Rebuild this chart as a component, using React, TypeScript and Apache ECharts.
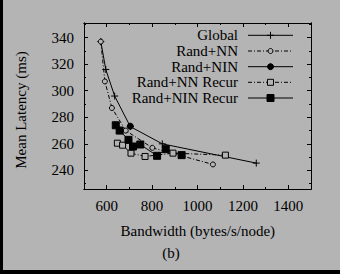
import React, { useEffect, useRef } from "react";
import * as echarts from "echarts";

const seriesNames = ["Global", "Rand+NN", "Rand+NIN", "Rand+NN Recur", "Rand+NIN Recur"];

const globalX = [574, 596, 635, 704, 845, 1259];
const globalY = [337, 316, 296, 273, 260, 245.5];
const randNNX = [574, 592, 623, 684, 801, 1068];
const randNNY = [337, 307, 287, 270, 257, 244.5];
const randNINX = [704];
const randNINY = [273.3];
const randNNRecurX = [647, 670, 707, 769, 892, 1123];
const randNNRecurY = [260.5, 259, 253, 250.5, 253, 251.5];
const randNINRecurX = [640, 657, 696, 716, 748, 822, 860, 930];
const randNINRecurY = [274, 270, 263, 258, 259.5, 251, 256, 251.5];

const xMajorTicks = [600, 800, 1000, 1200, 1400];
const xMinorTicks = [700, 900, 1100, 1300];
const yMajorTicks = [240, 260, 280, 300, 320, 340];
const yMinorTicks = [230, 250, 270, 290, 310, 330, 350];

const X_MIN = 500;
const X_MAX = 1500;
const Y_MIN = 226;
const Y_MAX = 351;

const BG = "#b4b4b4";
const FONT = "'Liberation Serif', 'DejaVu Serif', serif";
const DASHDOT = [4, 2, 1, 2];

const zip = (xs: number[], ys: number[]) => xs.map((x, i) => [x, ys[i]]);

const PLUS = "path://M0 5L10 5M5 0L5 10";

function xAxisDef(position: "top" | "bottom", ticks: number[], len: number, labels: boolean) {
  return {
    type: "value",
    position,
    min: X_MIN,
    max: X_MAX,
    axisLine: { show: true, onZero: false, lineStyle: { color: "#000", width: 1 } },
    axisTick: { show: true, inside: true, length: len, customValues: ticks, lineStyle: { color: "#000", width: 1 } },
    axisLabel: labels
      ? {
          show: true,
          customValues: ticks,
          margin: 9,
          color: "#000",
          fontSize: 15,
          fontFamily: FONT,
          formatter: (v: number) => String(v),
        }
      : { show: false },
    splitLine: { show: false },
  };
}

function yAxisDef(position: "left" | "right", ticks: number[], len: number, labels: boolean) {
  return {
    type: "value",
    position,
    min: Y_MIN,
    max: Y_MAX,
    axisLine: { show: true, onZero: false, lineStyle: { color: "#000", width: 1 } },
    axisTick: { show: true, inside: true, length: len, customValues: ticks, lineStyle: { color: "#000", width: 1 } },
    axisLabel: labels
      ? {
          show: true,
          customValues: ticks,
          margin: 10,
          color: "#000",
          fontSize: 15,
          fontFamily: FONT,
          formatter: (v: number) => String(v),
        }
      : { show: false },
    splitLine: { show: false },
  };
}

export default function App() {
  const ref = useRef<HTMLDivElement>(null);
  useEffect(() => {
    if (!ref.current) return;
    const chart = echarts.init(ref.current, undefined, { renderer: "svg" });

    const legendRows = [35.3, 51, 66.7, 82.3, 98];
    const textRight = 238;
    const lineL = 248;
    const lineR = 293;
    const mid = (lineL + lineR) / 2;
    const legendGraphics: any[] = [];
    const dashes: any[] = [null, DASHDOT, null, DASHDOT, null];
    seriesNames.forEach((name, i) => {
      const y = legendRows[i];
      legendGraphics.push({
        type: "text",
        x: textRight,
        y,
        style: { text: name, fill: "#000", fontSize: 15, fontFamily: FONT, align: "right", verticalAlign: "middle" },
      });
      legendGraphics.push({
        type: "line",
        shape: { x1: lineL, y1: y, x2: lineR, y2: y },
        style: { stroke: "#000", lineWidth: 1, lineDash: dashes[i] || undefined },
      });
    });
    const y0 = legendRows[0];
    legendGraphics.push({ type: "line", shape: { x1: mid - 3.5, y1: y0, x2: mid + 3.5, y2: y0 }, style: { stroke: "#000", lineWidth: 1 } });
    legendGraphics.push({ type: "line", shape: { x1: mid, y1: y0 - 3.5, x2: mid, y2: y0 + 3.5 }, style: { stroke: "#000", lineWidth: 1 } });
    legendGraphics.push({ type: "circle", shape: { cx: mid, cy: legendRows[1], r: 2.5 }, style: { fill: BG, stroke: "#000", lineWidth: 1 } });
    legendGraphics.push({ type: "circle", shape: { cx: mid, cy: legendRows[2], r: 3 }, style: { fill: "#000", stroke: "#000", lineWidth: 1 } });
    legendGraphics.push({ type: "rect", shape: { x: mid - 3, y: legendRows[3] - 3, width: 6, height: 6 }, style: { fill: BG, stroke: "#000", lineWidth: 1 } });
    legendGraphics.push({ type: "rect", shape: { x: mid - 3.5, y: legendRows[4] - 3.5, width: 7, height: 7 }, style: { fill: "#000", stroke: "#000", lineWidth: 1 } });

    const titleStyle = { fill: "#000", fontSize: 15, fontFamily: FONT, align: "center", verticalAlign: "middle" };

    const option: any = {
      animation: false,
      backgroundColor: BG,
      grid: { left: 84, top: 23, width: 227, height: 166, containLabel: false },
      xAxis: [
        xAxisDef("bottom", xMajorTicks, 4, true),
        xAxisDef("bottom", xMinorTicks, 2, false),
        xAxisDef("top", xMajorTicks, 4, false),
        xAxisDef("top", xMinorTicks, 2, false),
      ],
      yAxis: [
        yAxisDef("left", yMajorTicks, 4, true),
        yAxisDef("left", yMinorTicks, 2, false),
        yAxisDef("right", yMajorTicks, 4, false),
        yAxisDef("right", yMinorTicks, 2, false),
      ],
      series: [
        {
          name: seriesNames[0],
          type: "line",
          data: zip(globalX, globalY),
          symbol: PLUS,
          symbolSize: 7,
          lineStyle: { color: "#000", width: 1, type: "solid" },
          itemStyle: { color: "none", borderColor: "#000", borderWidth: 1 },
        },
        {
          name: seriesNames[1],
          type: "line",
          data: zip(randNNX, randNNY),
          symbol: "circle",
          symbolSize: 5,
          lineStyle: { color: "#000", width: 1, type: DASHDOT },
          itemStyle: { color: BG, borderColor: "#000", borderWidth: 1 },
        },
        {
          name: seriesNames[2],
          type: "line",
          data: zip(randNINX, randNINY),
          symbol: "circle",
          symbolSize: 6,
          lineStyle: { color: "#000", width: 1, type: "solid" },
          itemStyle: { color: "#000", borderColor: "#000", borderWidth: 1 },
        },
        {
          name: seriesNames[3],
          type: "line",
          data: zip(randNNRecurX, randNNRecurY),
          symbol: "rect",
          symbolSize: 6,
          lineStyle: { color: "#000", width: 1, type: DASHDOT },
          itemStyle: { color: BG, borderColor: "#000", borderWidth: 1 },
        },
        {
          name: seriesNames[4],
          type: "line",
          data: zip(randNINRecurX, randNINRecurY),
          symbol: "rect",
          symbolSize: 7,
          lineStyle: { color: "#000", width: 1, type: "solid" },
          itemStyle: { color: "#000", borderColor: "#000", borderWidth: 1 },
        },
      ],
      graphic: [
        ...legendGraphics,
        { type: "text", x: 197.8, y: 230.5, style: { ...titleStyle, text: "Bandwidth (bytes/s/node)" } },
        { type: "text", x: 20.8, y: 110, rotation: Math.PI / 2, style: { ...titleStyle, text: "Mean Latency (ms)" } },
        { type: "text", x: 171, y: 252.7, style: { ...titleStyle, text: "(b)" } },
        { type: "rect", shape: { x: 0, y: 0, width: 3, height: 274 }, style: { fill: "#000" } },
        { type: "rect", shape: { x: 0, y: 270, width: 340, height: 4 }, style: { fill: "#000" } },
      ],
    };
    chart.setOption(option);
    return () => chart.dispose();
  }, []);
  return <div ref={ref} style={{ position: "fixed", left: 0, top: 0, width: 340, height: 274 }} />;
}
